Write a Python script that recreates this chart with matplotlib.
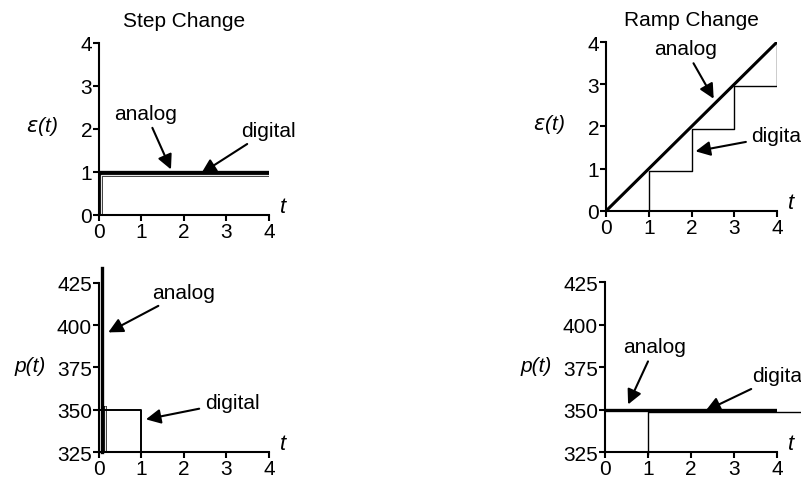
import numpy as np
import matplotlib.pyplot as plt

plt.rcParams['font.family'] = ['Liberation Sans', 'DejaVu Sans']

# Data
t_ticks = [0, 1, 2, 3, 4]
e_ticks = [0, 1, 2, 3, 4]
p_ticks = [325, 350, 375, 400, 425]

# step change
step_analog_t = [0, 4]
step_analog_e = [1, 1]
step_digital_t = [0, 0.05, 0.05, 4]
step_digital_e = [0, 0, 0.92, 0.92]

# ramp change
ramp_analog_t = [0, 4]
ramp_analog_e = [0, 4]
ramp_digital_t = [0, 1, 1, 2, 2, 3, 3, 4, 4]
ramp_digital_e = [0, 0, 0.95, 0.95, 1.95, 1.95, 2.95, 2.95, 4]

# controller output, step
pstep_analog_t = [0.08, 0.08]
pstep_analog_p = [325, 434]
pstep_grey_t = [0.14, 0.14]
pstep_grey_p = [325, 352]
pstep_digital_t = [0, 1, 1]
pstep_digital_p = [350, 350, 325]

# controller output, ramp
pramp_analog_t = [0, 4]
pramp_analog_p = [350, 350]
pramp_digital_t = [1, 1, 5]
pramp_digital_p = [324, 348.5, 348.5]

FS = 15

fig = plt.figure(figsize=(8.01, 4.81), dpi=100)


def setup(ax, ylim, yticks, ylab, ylab_x, ylab_y):
    ax.set_xlim(0, 4)
    ax.set_ylim(*ylim)
    ax.set_xticks(t_ticks)
    ax.set_yticks(yticks)
    for s in ['top', 'right']:
        ax.spines[s].set_visible(False)
    for s in ['left', 'bottom']:
        ax.spines[s].set_linewidth(1.5)
    ax.tick_params(direction='out', length=4, width=1.5, labelsize=FS, pad=1)
    ax.text(1.08, 0.05, 't', transform=ax.transAxes, fontsize=FS + 1,
            style='italic', ha='center', va='center')
    ax.text(ylab_x, ylab_y, ylab, transform=ax.transAxes, fontsize=FS,
            style='italic', ha='center', va='center')


def double_line(ax, x, y, **kw):
    ax.plot(x, y, color='black', lw=2.6, solid_capstyle='butt', **kw)
    ax.plot(x, y, color='#e6e6e6', lw=0.9, solid_capstyle='butt', **kw)


arrow = dict(arrowstyle='-|>', color='black', lw=1.5, mutation_scale=22)

# top-left: step change
ax1 = fig.add_axes([0.1236, 0.551, 0.2122, 0.3576])
setup(ax1, (0, 4), e_ticks, r'$\varepsilon$(t)', -0.335, 0.52)
ax1.set_title('Step Change', fontsize=FS, pad=12)
double_line(ax1, step_digital_t, step_digital_e)
ax1.plot(step_analog_t, step_analog_e, color='black', lw=2.4)
ax1.annotate('analog', xy=(1.72, 1.0), xytext=(1.1, 2.15), fontsize=FS,
             ha='center', va='bottom', arrowprops=arrow)
ax1.annotate('digital', xy=(2.35, 0.93), xytext=(3.35, 1.75), fontsize=FS,
             ha='left', va='bottom', arrowprops=arrow)

# top-right: ramp change
ax2 = fig.add_axes([0.7566, 0.5593, 0.2135, 0.3513])
setup(ax2, (0, 4), e_ticks, r'$\varepsilon$(t)', -0.333, 0.52)
ax2.set_title('Ramp Change', fontsize=FS, pad=12)
ax2.plot(ramp_digital_t, ramp_digital_e, color='black', lw=1.0)
ax2.plot(ramp_analog_t, ramp_analog_e, color='black', lw=2.2)
ax2.annotate('analog', xy=(2.55, 2.6), xytext=(1.85, 3.62), fontsize=FS,
             ha='center', va='bottom', arrowprops=arrow)
ax2.annotate('digital', xy=(2.03, 1.4), xytext=(3.4, 1.78), fontsize=FS,
             ha='left', va='center', arrowprops=arrow, annotation_clip=False)

# bottom-left: controller output, step
ax3 = fig.add_axes([0.1236, 0.0582, 0.2122, 0.3514])
setup(ax3, (325, 425), p_ticks, 'p(t)', -0.405, 0.51)
double_line(ax3, pstep_grey_t, pstep_grey_p)
ax3.plot(pstep_digital_t, pstep_digital_p, color='black', lw=1.4)
ax3.plot(pstep_analog_t, pstep_analog_p, color='black', lw=2.4, clip_on=False)
ax3.annotate('analog', xy=(0.16, 395), xytext=(2.0, 419.5), fontsize=FS,
             ha='center', va='center', arrowprops=arrow)
ax3.annotate('digital', xy=(1.04, 344), xytext=(3.13, 354.5), fontsize=FS,
             ha='center', va='center', arrowprops=arrow)

# bottom-right: controller output, ramp
ax4 = fig.add_axes([0.7553, 0.0582, 0.2147, 0.3534])
setup(ax4, (325, 425), p_ticks, 'p(t)', -0.40, 0.51)
ax4.plot(pramp_digital_t, pramp_digital_p, color='black', lw=1.0, clip_on=False)
ax4.plot(pramp_analog_t, pramp_analog_p, color='black', lw=2.4)
ax4.annotate('analog', xy=(0.51, 351.5), xytext=(1.16, 387), fontsize=FS,
             ha='center', va='center', arrowprops=arrow)
ax4.annotate('digital', xy=(2.28, 348.5), xytext=(3.42, 370), fontsize=FS,
             ha='left', va='center', arrowprops=arrow, annotation_clip=False)

fig.savefig('out.png', dpi=100)
